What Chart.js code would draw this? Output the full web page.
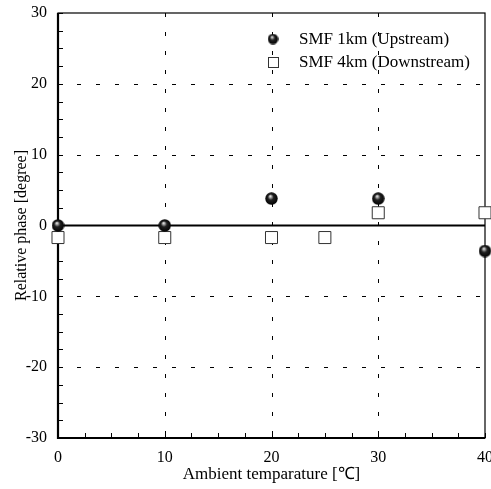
<!DOCTYPE html>
<html>
<head>
<meta charset="utf-8">
<script src="https://cdn.jsdelivr.net/npm/chart.js@4/dist/chart.umd.min.js"></script>
<style>
  html, body { margin: 0; padding: 0; background: #fff; }
  #wrap { width: 491px; height: 489px; }
</style>
</head>
<body>
<div id="wrap"><canvas id="chart" width="491" height="489"></canvas></div>
<script>
// data
const upTemps = [0, 10, 20, 30, 40];
const upPhase = [0, 0, 3.8, 3.8, -3.6];
const downTemps = [0, 10, 20, 25, 30, 40];
const downPhase = [-1.7, -1.7, -1.7, -1.7, 1.8, 1.8];
const xTicks = [0, 10, 20, 30, 40];
const yTicks = [-30, -20, -10, 0, 10, 20, 30];
const minorStep = 2.5;

const FONT = "'Liberation Serif', 'Times New Roman', serif";

// shiny ball marker
function makeBall(d) {
    const c = document.createElement("canvas");
    c.width = d; c.height = d;
    const g = c.getContext("2d");
    const r = d / 2;
    const grad = g.createRadialGradient(r * 0.8, r * 0.6, 0, r, r, r);
    grad.addColorStop(0, "#ffffff");
    grad.addColorStop(0.18, "#aaaaaa");
    grad.addColorStop(0.45, "#202020");
    grad.addColorStop(1, "#000000");
    g.fillStyle = grad;
    g.beginPath();
    g.arc(r, r, r - 0.3, 0, Math.PI * 2);
    g.fill();
    return c;
}
const ball = makeBall(13);
const legendBall = makeBall(11);

const pts = (xs, ys) => xs.map((x, i) => ({ x: x, y: ys[i] }));

// dashed grid, inner ticks, frame and zero line
const framePlugin = {
    id: "frame",
    beforeDatasetsDraw(chart) {
        const { ctx, chartArea: a, scales } = chart;
        const xs = scales.x, ys = scales.y;
        ctx.save();
        ctx.strokeStyle = "#000";
        ctx.lineWidth = 1;
        ctx.setLineDash([4, 15]);
        xTicks.forEach(v => {
            if (v === xs.min || v === xs.max) return;
            const px = Math.round(xs.getPixelForValue(v)) + 0.5;
            ctx.beginPath(); ctx.moveTo(px, a.top); ctx.lineTo(px, a.bottom); ctx.stroke();
        });
        yTicks.forEach(v => {
            if (v === ys.min || v === ys.max || v === 0) return;
            const py = Math.round(ys.getPixelForValue(v)) + 0.5;
            ctx.beginPath(); ctx.moveTo(a.left, py); ctx.lineTo(a.right, py); ctx.stroke();
        });
        ctx.setLineDash([]);
        // minor ticks inward
        for (let v = xs.min; v <= xs.max + 1e-9; v += minorStep) {
            const px = Math.round(xs.getPixelForValue(v)) + 0.5;
            ctx.beginPath(); ctx.moveTo(px, a.bottom); ctx.lineTo(px, a.bottom - 5); ctx.stroke();
        }
        for (let v = ys.min; v <= ys.max + 1e-9; v += minorStep) {
            const py = Math.round(ys.getPixelForValue(v)) + 0.5;
            ctx.beginPath(); ctx.moveTo(a.left, py); ctx.lineTo(a.left + 5, py); ctx.stroke();
        }
        // zero line
        ctx.lineWidth = 2.2;
        const y0 = ys.getPixelForValue(0);
        ctx.beginPath(); ctx.moveTo(a.left, y0); ctx.lineTo(a.right, y0); ctx.stroke();
        // frame
        ctx.lineWidth = 1.2;
        ctx.strokeRect(a.left, a.top, a.right - a.left, a.bottom - a.top);
        ctx.lineWidth = 2.2;
        ctx.beginPath();
        ctx.moveTo(a.left, a.top); ctx.lineTo(a.left, a.bottom); ctx.lineTo(a.right, a.bottom);
        ctx.stroke();
        ctx.restore();
    },
    afterDatasetsDraw(chart) {
        const { ctx, chartArea: a } = chart;
        ctx.save();
        ctx.font = "17px " + FONT;
        ctx.fillStyle = "#000";
        ctx.textBaseline = "middle";
        const mx = a.right - 212, tx = a.right - 186;
        let y = a.top + 26;
        chart.data.datasets.forEach((ds, i) => {
            if (i === 0) {
                ctx.drawImage(legendBall, mx - 5.5, y - 5.5);
            } else {
                ctx.fillStyle = "#fff";
                ctx.strokeStyle = "#333";
                ctx.lineWidth = 1;
                ctx.fillRect(mx - 5, y - 5, 10, 10);
                ctx.strokeRect(mx - 4.5, y - 4.5, 10, 10);
                ctx.fillStyle = "#000";
            }
            ctx.fillText(ds.label, tx, y + 1);
            y += 23;
        });
        ctx.restore();
    }
};

new Chart(document.getElementById("chart"), {
    type: "scatter",
    data: {
        datasets: [
            {
                label: "SMF 1km (Upstream)",
                data: pts(upTemps, upPhase),
                pointStyle: ball,
                pointRadius: 6.5,
                clip: false,
                order: 1
            },
            {
                label: "SMF 4km (Downstream)",
                data: pts(downTemps, downPhase),
                pointStyle: "rect",
                pointRadius: 8.5,
                borderWidth: 1,
                borderColor: "#333",
                backgroundColor: "#fff",
                clip: false,
                order: 2
            }
        ]
    },
    options: {
        responsive: false,
        animation: false,
        layout: { autoPadding: false, padding: { top: 13, right: 6, left: 10, bottom: 0 } },
        plugins: {
            legend: { display: false },
            tooltip: { enabled: false }
        },
        scales: {
            x: {
                type: "linear",
                min: 0, max: 40,
                afterBuildTicks: s => { s.ticks = xTicks.map(v => ({ value: v })); },
                afterFit: s => { s.height = 51; s.paddingLeft = 0; s.paddingRight = 0; },
                grid: { display: false },
                border: { display: false },
                ticks: { color: "#000", font: { family: FONT, size: 16 }, padding: 2, maxRotation: 0 },
                title: { display: true, text: "Ambient temparature [℃]", color: "#000", font: { family: FONT, size: 17 }, padding: { top: 1 } }
            },
            y: {
                min: -30, max: 30,
                afterBuildTicks: s => { s.ticks = yTicks.map(v => ({ value: v })); },
                afterFit: s => { s.width = 48; s.paddingTop = 0; s.paddingBottom = 0; },
                grid: { display: false },
                border: { display: false },
                ticks: { color: "#000", font: { family: FONT, size: 16 }, padding: 3 },
                title: { display: true, text: "Relative phase [degree]", color: "#000", font: { family: FONT, size: 16 }, padding: { top: 2, bottom: 0 } }
            }
        }
    },
    plugins: [framePlugin]
});
</script>
</body>
</html>
